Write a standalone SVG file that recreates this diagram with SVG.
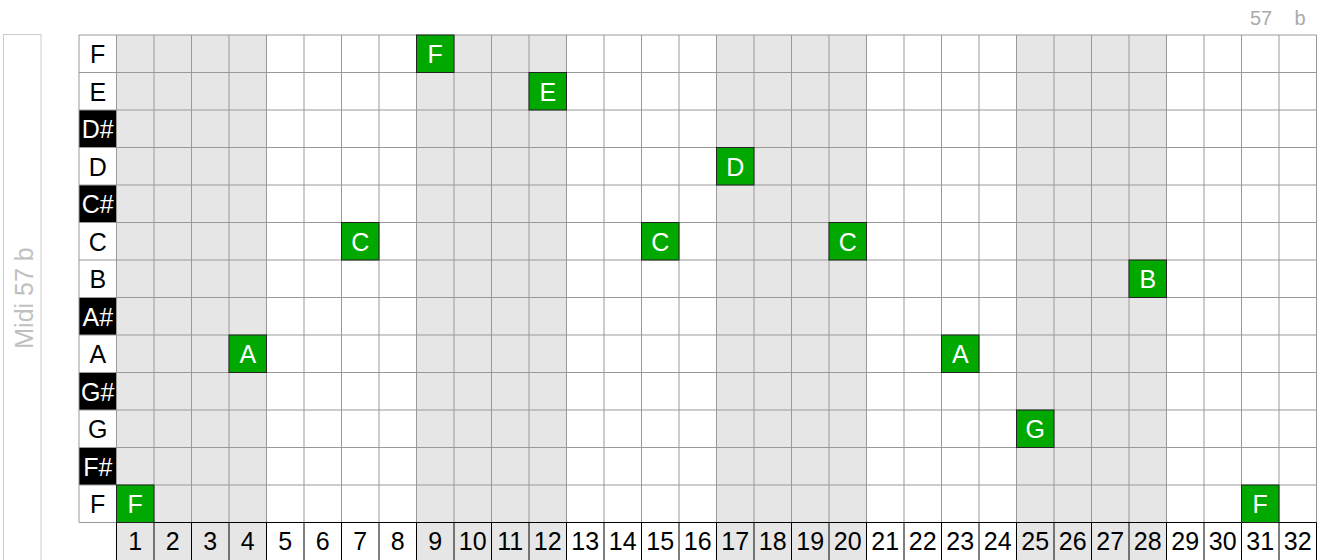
<svg xmlns="http://www.w3.org/2000/svg" width="1327" height="560" viewBox="0 0 1327 560">
<style>
text{font-family:"Liberation Sans",Arial,sans-serif;font-size:25px;text-anchor:middle}
.sharp rect{fill:#000}
.sharp text{fill:#fff}
.nat rect{fill:#fff}
.note rect{fill:#00a800;stroke:#222;stroke-width:1}
.note text{fill:#fff}
.num{fill:#000}
.grid{stroke:#999;stroke-width:1;fill:none}
.numgrid{stroke:#000;stroke-width:1;fill:none}
.shade{fill:#e6e6e6}
.meta{fill:#aaa;font-size:20px}
</style>
<rect width="1327" height="560" fill="#fff"/>
<g id="side">
<rect x="3.5" y="34.5" width="37.5" height="540" fill="#fff" stroke="#ccc"/>
<text transform="translate(33 298) rotate(-90)" style="fill:#c0c0c0;font-size:25px">Midi 57 b</text>
</g>
<g id="header">
<text class="meta" x="1261" y="25">57</text>
<text class="meta" x="1300" y="25">b</text>
</g>
<g id="shading">
<rect class="shade" x="116.5" y="35" width="150" height="525"/>
<rect class="shade" x="416.5" y="35" width="150" height="525"/>
<rect class="shade" x="716.5" y="35" width="150" height="525"/>
<rect class="shade" x="1016.5" y="35" width="150" height="525"/>
</g>
<g id="labels">
<g id="lbl-F-hi" class="nat"><rect x="79" y="35" width="37.5" height="37.5"/><text x="97.75" y="63">F</text></g>
<g id="lbl-E" class="nat"><rect x="79" y="72.5" width="37.5" height="37.5"/><text x="97.75" y="100.5">E</text></g>
<g id="lbl-Ds" class="sharp"><rect x="79" y="110" width="37.5" height="37.5"/><text x="97.75" y="138">D#</text></g>
<g id="lbl-D" class="nat"><rect x="79" y="147.5" width="37.5" height="37.5"/><text x="97.75" y="175.5">D</text></g>
<g id="lbl-Cs" class="sharp"><rect x="79" y="185" width="37.5" height="37.5"/><text x="97.75" y="213">C#</text></g>
<g id="lbl-C" class="nat"><rect x="79" y="222.5" width="37.5" height="37.5"/><text x="97.75" y="250.5">C</text></g>
<g id="lbl-B" class="nat"><rect x="79" y="260" width="37.5" height="37.5"/><text x="97.75" y="288">B</text></g>
<g id="lbl-As" class="sharp"><rect x="79" y="297.5" width="37.5" height="37.5"/><text x="97.75" y="325.5">A#</text></g>
<g id="lbl-A" class="nat"><rect x="79" y="335" width="37.5" height="37.5"/><text x="97.75" y="363">A</text></g>
<g id="lbl-Gs" class="sharp"><rect x="79" y="372.5" width="37.5" height="37.5"/><text x="97.75" y="400.5">G#</text></g>
<g id="lbl-G" class="nat"><rect x="79" y="410" width="37.5" height="37.5"/><text x="97.75" y="438">G</text></g>
<g id="lbl-Fs" class="sharp"><rect x="79" y="447.5" width="37.5" height="37.5"/><text x="97.75" y="475.5">F#</text></g>
<g id="lbl-F-lo" class="nat"><rect x="79" y="485" width="37.5" height="37.5"/><text x="97.75" y="513">F</text></g>
</g>
<g id="grid">
<path class="grid" d="M79 35V522.5M116.5 35V522.5M154 35V522.5M191.5 35V522.5M229 35V522.5M266.5 35V522.5M304 35V522.5M341.5 35V522.5M379 35V522.5M416.5 35V522.5M454 35V522.5M491.5 35V522.5M529 35V522.5M566.5 35V522.5M604 35V522.5M641.5 35V522.5M679 35V522.5M716.5 35V522.5M754 35V522.5M791.5 35V522.5M829 35V522.5M866.5 35V522.5M904 35V522.5M941.5 35V522.5M979 35V522.5M1016.5 35V522.5M1054 35V522.5M1091.5 35V522.5M1129 35V522.5M1166.5 35V522.5M1204 35V522.5M1241.5 35V522.5M1279 35V522.5M1316.5 35V522.5"/>
<path class="grid" d="M79 35H1316.5M79 72.5H1316.5M79 110H1316.5M79 147.5H1316.5M79 185H1316.5M79 222.5H1316.5M79 260H1316.5M79 297.5H1316.5M79 335H1316.5M79 372.5H1316.5M79 410H1316.5M79 447.5H1316.5M79 485H1316.5M79 522.5H116.5"/>
<path class="numgrid" d="M116.5 522.5H1316.5M116.5 522.5V560M154 522.5V560M191.5 522.5V560M229 522.5V560M266.5 522.5V560M304 522.5V560M341.5 522.5V560M379 522.5V560M416.5 522.5V560M454 522.5V560M491.5 522.5V560M529 522.5V560M566.5 522.5V560M604 522.5V560M641.5 522.5V560M679 522.5V560M716.5 522.5V560M754 522.5V560M791.5 522.5V560M829 522.5V560M866.5 522.5V560M904 522.5V560M941.5 522.5V560M979 522.5V560M1016.5 522.5V560M1054 522.5V560M1091.5 522.5V560M1129 522.5V560M1166.5 522.5V560M1204 522.5V560M1241.5 522.5V560M1279 522.5V560M1316.5 522.5V560"/>
</g>
<g id="numbers" class="num">
<text x="135.25" y="550">1</text><text x="172.75" y="550">2</text><text x="210.25" y="550">3</text><text x="247.75" y="550">4</text>
<text x="285.25" y="550">5</text><text x="322.75" y="550">6</text><text x="360.25" y="550">7</text><text x="397.75" y="550">8</text>
<text x="435.25" y="550">9</text><text x="472.75" y="550">10</text><text x="510.25" y="550">11</text><text x="547.75" y="550">12</text>
<text x="585.25" y="550">13</text><text x="622.75" y="550">14</text><text x="660.25" y="550">15</text><text x="697.75" y="550">16</text>
<text x="735.25" y="550">17</text><text x="772.75" y="550">18</text><text x="810.25" y="550">19</text><text x="847.75" y="550">20</text>
<text x="885.25" y="550">21</text><text x="922.75" y="550">22</text><text x="960.25" y="550">23</text><text x="997.75" y="550">24</text>
<text x="1035.25" y="550">25</text><text x="1072.75" y="550">26</text><text x="1110.25" y="550">27</text><text x="1147.75" y="550">28</text>
<text x="1185.25" y="550">29</text><text x="1222.75" y="550">30</text><text x="1260.25" y="550">31</text><text x="1297.75" y="550">32</text>
</g>
<g id="notes">
<g id="note-F-9" class="note"><rect x="416.5" y="35" width="37.5" height="37.5"/><text x="435.25" y="63">F</text></g>
<g id="note-E-12" class="note"><rect x="529" y="72.5" width="37.5" height="37.5"/><text x="547.75" y="100.5">E</text></g>
<g id="note-D-17" class="note"><rect x="716.5" y="147.5" width="37.5" height="37.5"/><text x="735.25" y="175.5">D</text></g>
<g id="note-C-7" class="note"><rect x="341.5" y="222.5" width="37.5" height="37.5"/><text x="360.25" y="250.5">C</text></g>
<g id="note-C-15" class="note"><rect x="641.5" y="222.5" width="37.5" height="37.5"/><text x="660.25" y="250.5">C</text></g>
<g id="note-C-20" class="note"><rect x="829" y="222.5" width="37.5" height="37.5"/><text x="847.75" y="250.5">C</text></g>
<g id="note-B-28" class="note"><rect x="1129" y="260" width="37.5" height="37.5"/><text x="1147.75" y="288">B</text></g>
<g id="note-A-4" class="note"><rect x="229" y="335" width="37.5" height="37.5"/><text x="247.75" y="363">A</text></g>
<g id="note-A-23" class="note"><rect x="941.5" y="335" width="37.5" height="37.5"/><text x="960.25" y="363">A</text></g>
<g id="note-G-25" class="note"><rect x="1016.5" y="410" width="37.5" height="37.5"/><text x="1035.25" y="438">G</text></g>
<g id="note-F-1" class="note"><rect x="116.5" y="485" width="37.5" height="37.5"/><text x="135.25" y="513">F</text></g>
<g id="note-F-31" class="note"><rect x="1241.5" y="485" width="37.5" height="37.5"/><text x="1260.25" y="513">F</text></g>
</g>
</svg>
